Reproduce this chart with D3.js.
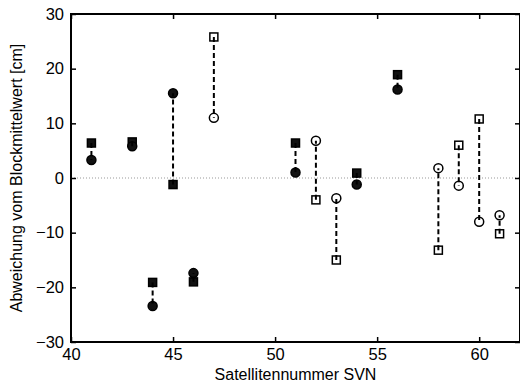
<!DOCTYPE html>
<html>
<head>
<meta charset="utf-8">
<script src="https://cdn.jsdelivr.net/npm/d3@7"></script>
<style>
body { margin: 0; background: #fff; }
svg { font-family: "Liberation Sans", Arial, sans-serif; }
</style>
</head>
<body>
<svg width="520" height="385"></svg>
<script>
// filled markers
var svnFilled = [41, 43, 44, 45, 46, 51, 54, 56];
var squareFilled = [6.4, 6.6, -19.1, -1.2, -19.0, 6.4, 0.9, 18.9];
var circleFilled = [3.3, 5.8, -23.4, 15.5, -17.4, 1.0, -1.2, 16.2];
// open markers
var svnOpen = [47, 52, 53, 58, 59, 60, 61];
var squareOpen = [25.8, -4.0, -15.0, -13.2, 6.0, 10.8, -10.2];
var circleOpen = [11.0, 6.8, -3.7, 1.8, -1.4, -8.0, -6.8];

var xTicks = [40, 45, 50, 55, 60];
var yTicks = [-30, -20, -10, 0, 10, 20, 30];

var pLeft = 71, pTop = 14, pRight = 520, pBottom = 342;

var svg = d3.select('svg');

var x = d3.scaleLinear().domain([40, 62]).range([pLeft, pRight]);
var y = d3.scaleLinear().domain([-30, 30]).range([pBottom, pTop]);

// zero line
svg.append('line')
    .attr('x1', pLeft).attr('x2', pRight)
    .attr('y1', y(0)).attr('y2', y(0))
    .attr('stroke', '#999')
    .attr('stroke-width', 1)
    .attr('stroke-dasharray', '1,2');

function pairs(svn, sq, ci, filled) {
    var data = svn.map(function(s, i){ return {svn: s, sq: sq[i], ci: ci[i]}; });
    var g = svg.append('g');
    var fill = filled ? '#111' : '#fff';

    g.selectAll('rect')
        .data(data)
        .enter()
        .append('rect')
        .attr('x', function(d){ return x(d.svn) - 4; })
        .attr('y', function(d){ return y(d.sq) - 4; })
        .attr('width', 8)
        .attr('height', 8)
        .attr('fill', fill)
        .attr('stroke', '#000')
        .attr('stroke-width', 1.5);

    g.selectAll('circle')
        .data(data)
        .enter()
        .append('circle')
        .attr('cx', function(d){ return x(d.svn); })
        .attr('cy', function(d){ return y(d.ci); })
        .attr('r', 4.5)
        .attr('fill', fill)
        .attr('stroke', '#000')
        .attr('stroke-width', 1.5);

    g.selectAll('line')
        .data(data)
        .enter()
        .append('line')
        .attr('x1', function(d){ return x(d.svn); })
        .attr('x2', function(d){ return x(d.svn); })
        .attr('y1', function(d){ return y(d.sq); })
        .attr('y2', function(d){ return y(d.ci); })
        .attr('stroke', '#000')
        .attr('stroke-width', 2)
        .attr('stroke-dasharray', '5,3');
}

pairs(svnFilled, squareFilled, circleFilled, true);
pairs(svnOpen, squareOpen, circleOpen, false);

// axes box
svg.append('rect')
    .attr('x', pLeft).attr('y', pTop)
    .attr('width', pRight - pLeft).attr('height', pBottom - pTop)
    .attr('fill', 'none')
    .attr('stroke', '#000')
    .attr('stroke-width', 2);

var fmt = function(d){ return d < 0 ? '\u2212' + Math.abs(d) : d; };

svg.append('g')
    .attr('transform', 'translate(0,' + pBottom + ')')
    .call(d3.axisBottom(x).tickValues(xTicks).tickSize(-5).tickPadding(6).tickFormat(fmt))
    .call(function(g){ g.select('.domain').remove(); });
svg.append('g')
    .attr('transform', 'translate(0,' + pTop + ')')
    .call(d3.axisTop(x).tickValues(xTicks).tickSize(-5).tickFormat(''))
    .call(function(g){ g.select('.domain').remove(); });
svg.append('g')
    .attr('transform', 'translate(' + pLeft + ',0)')
    .call(d3.axisLeft(y).tickValues(yTicks).tickSize(-5).tickPadding(7).tickFormat(fmt))
    .call(function(g){ g.select('.domain').remove(); });
svg.append('g')
    .attr('transform', 'translate(' + pRight + ',0)')
    .call(d3.axisRight(y).tickValues(yTicks).tickSize(-5).tickFormat(''))
    .call(function(g){ g.select('.domain').remove(); });

svg.selectAll('.tick line').attr('stroke', '#000').attr('stroke-width', 1.5);
svg.selectAll('.tick text')
    .attr('font-size', 16.5)
    .attr('font-family', '"Liberation Sans", Arial, sans-serif')
    .attr('fill', '#000');

svg.append('text')
    .attr('x', (pLeft + pRight) / 2)
    .attr('y', 380)
    .attr('text-anchor', 'middle')
    .attr('font-size', 16)
    .text('Satellitennummer SVN');

svg.append('text')
    .attr('transform', 'translate(22,' + (pTop + pBottom) / 2 + ') rotate(-90)')
    .attr('text-anchor', 'middle')
    .attr('font-size', 16)
    .text('Abweichung vom Blockmittelwert [cm]');
</script>
</body>
</html>
